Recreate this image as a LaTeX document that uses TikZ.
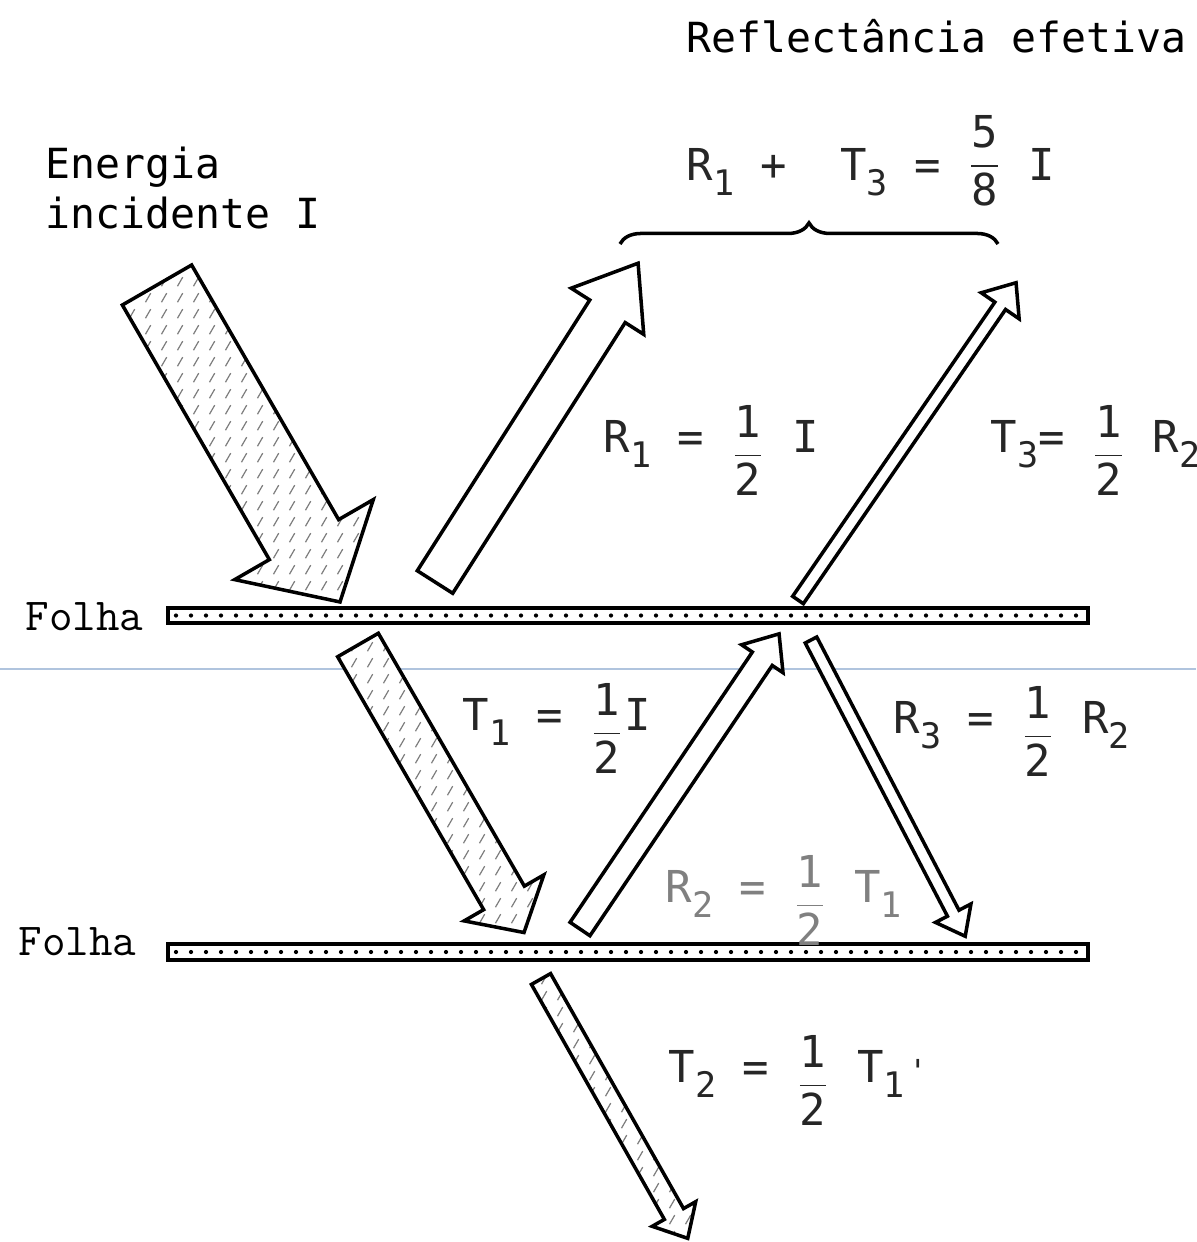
\documentclass[tikz,border=0pt]{standalone}
\usepackage{amsmath}
\usepackage{fontspec}
\usepackage{tikz}
\usetikzlibrary{patterns}
\usetikzlibrary{decorations.pathreplacing}

\newfontfamily\gothic{DejaVu Sans Mono}
\definecolor{scanblue}{RGB}{176,196,222}

\pgfdeclarepatternformonly{short hatch}{\pgfqpoint{0pt}{0pt}}{\pgfqpoint{4.5pt}{4.5pt}}{\pgfqpoint{4.5pt}{4.5pt}}{%
  \pgfsetlinewidth{0.35pt}%
  \pgfpathmoveto{\pgfqpoint{1pt}{0.8pt}}%
  \pgfpathlineto{\pgfqpoint{2.5pt}{3.4pt}}%
  \pgfusepath{stroke}}

\newcommand{\lowsub}[1]{\raisebox{-4.5pt}{\fontsize{10}{10}\selectfont #1}}
\newcommand{\eqfrac}[3][-4pt]{\raisebox{#1}{$\dfrac{\text{#2}}{\text{#3}}$}}

% style, tail, angle, length, shaft width, head width, head length
\newcommand{\blockarrow}[7]{%
  \begin{scope}[shift={#2}, rotate=#3]
    \draw[#1] (0,-#5/2) -- (#4-#7,-#5/2) -- (#4-#7,-#6/2) -- (#4,0)
      -- (#4-#7,#6/2) -- (#4-#7,#5/2) -- (0,#5/2) -- cycle;
  \end{scope}}

\begin{document}
\begin{tikzpicture}[x=0.01cm, y=-0.01cm,
    arrowline/.style={draw, line width=1pt, line join=miter},
    whitearrow/.style={arrowline, fill=white},
    hatcharrow/.style={arrowline, preaction={fill=white}, pattern=short hatch, pattern color=black!50},
    sheet/.style={draw, line width=1.4pt, fill=white},
    titletext/.style={inner sep=0pt, anchor=base west, font=\gothic\fontsize{11.8}{14}\selectfont},
    folhatext/.style={inner sep=0pt, anchor=base west, font=\ttfamily\fontsize{13}{15}\selectfont},
    eqtext/.style={inner sep=0pt, anchor=base west, text=black!85, font=\gothic\fontsize{12.5}{15}\selectfont}]
        \useasboundingbox (0,0) rectangle (1196,1242);
        \draw[scanblue, line width=0.5pt] (0,669) -- (1196,669);

        \draw[sheet] (168,608) rectangle (1088,623);
        \draw[sheet] (168,944) rectangle (1088,960);
        \foreach \x in {176,191,...,1082} {
            \fill (\x,615.5) circle (0.6pt);
            \fill (\x,952) circle (0.6pt);
        }
        \node[folhatext] (folha1) at (25,630) {Folha};
        \node[folhatext] (folha2) at (18,955) {Folha};

        \blockarrow{hatcharrow}{(157,285)}{-60}{366}{80}{160}{72}
        \blockarrow{whitearrow}{(435,582)}{57.5}{378}{42}{86}{57}
        \blockarrow{hatcharrow}{(358,645)}{-60}{332}{47}{92}{40}
        \blockarrow{whitearrow}{(580,929)}{56}{356}{24}{50}{30}
        \blockarrow{whitearrow}{(798,600)}{55.5}{385}{13}{46}{28}
        \blockarrow{whitearrow}{(811,640)}{-62.5}{334}{13}{40}{26}
        \blockarrow{hatcharrow}{(541,979)}{-60.5}{298}{22}{50}{28}

        \node[titletext] (refl) at (686,52) {Reflectância efetiva};
        \node[titletext] (energia) at (45,178) {Energia};
        \node[titletext] (incid) at (45,228) {incidente I};

        \node[eqtext] (soma) at (686,180) {R\lowsub{1} + \ T\lowsub{3} = \eqfrac[1pt]{5}{8} I};
        \draw[decorate, decoration={brace, amplitude=6pt}, line width=1pt] (620,244) -- (998,244);

        \node[eqtext] (r1) at (603,452) {R\lowsub{1} = \eqfrac{1}{2} I};
        \node[eqtext] (t3) at (990,452) {T\lowsub{3}= \eqfrac{1}{2} R\lowsub{2}};
        \node[eqtext] (t1) at (462,730) {T\lowsub{1} = \eqfrac{1}{2}I};
        \node[eqtext] (r3) at (893,733) {R\lowsub{3} = \eqfrac{1}{2} R\lowsub{2}};
        \node[eqtext, text=black!50] (r2) at (665,902) {R\lowsub{2} = \eqfrac{1}{2} T\lowsub{1}};
        \node[eqtext] (t2) at (668,1082) {T\lowsub{2} = \eqfrac{1}{2} T\lowsub{1}\kern1pt{\fontsize{9}{9}\selectfont'}};
    \end{tikzpicture}
\end{document}
